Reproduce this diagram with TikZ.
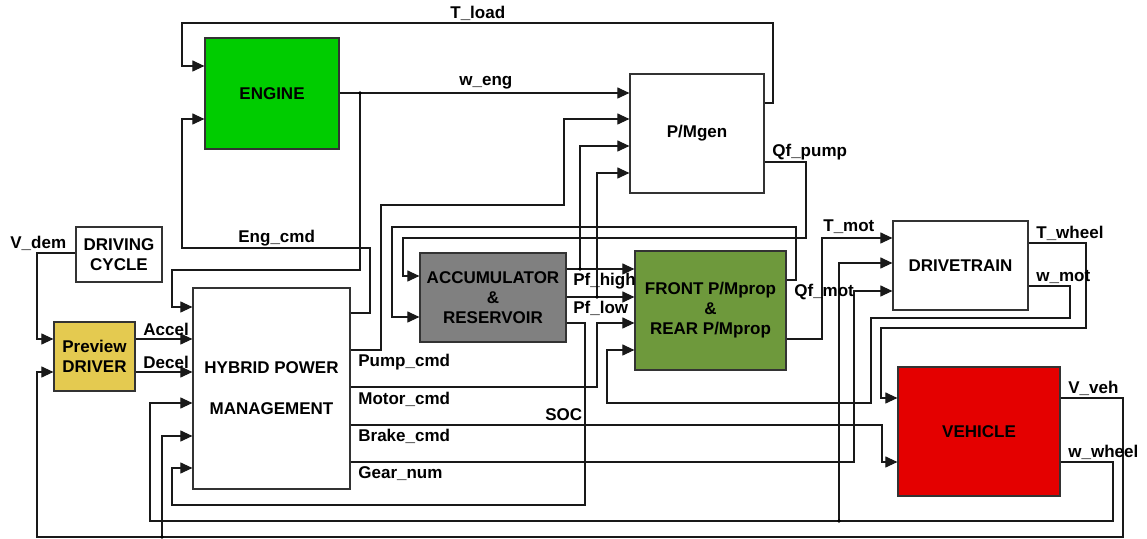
\documentclass[tikz,border=0pt]{standalone}
\usepackage{fontspec}
\setmainfont{Liberation Sans}
\usetikzlibrary{arrows.meta}

\definecolor{enggreen}{RGB}{0,204,0}
\definecolor{propgreen}{RGB}{110,153,60}
\definecolor{accgray}{RGB}{128,128,128}
\definecolor{drvyellow}{RGB}{228,202,80}
\definecolor{vehred}{RGB}{228,0,0}

\begin{document}
\begin{tikzpicture}[
  x=0.5pt, y=-0.5pt,
  blk/.style={draw=black!80, line width=0.6pt, align=center, inner sep=0pt,
              font=\fontsize{8.5}{10}\selectfont\bfseries},
  lbl/.style={anchor=west, inner sep=0pt, font=\fontsize{8.5}{10}\selectfont\bfseries},
  wire/.style={draw=black!90, line width=0.55pt},
  sig/.style={wire, -{Triangle[length=6pt, width=5.5pt]}}
]
\path[use as bounding box, fill=white] (0,0) rectangle (1147,539);

% blocks
\node[blk, minimum width=43pt, minimum height=27.5pt] (cycle) at (119,254.5) {DRIVING\\CYCLE};
\node[blk, fill=drvyellow, minimum width=40.5pt, minimum height=34.5pt] (driver) at (94.5,356.5) {Preview\\DRIVER};
\node[blk, minimum width=78.5pt, minimum height=100.5pt] (hpm) at (271.5,388.5) {HYBRID POWER\\[10.5pt]MANAGEMENT};
\node[blk, fill=enggreen, minimum width=67pt, minimum height=55.5pt] (engine) at (272,93.5) {ENGINE};
\node[blk, minimum width=67pt, minimum height=59.5pt] (pmgen) at (697,133.5) {P/Mgen};
\node[blk, fill=accgray, minimum width=73pt, minimum height=44.5pt] (acc) at (493,297.5) {ACCUMULATOR\\\&\\RESERVOIR};
\node[blk, fill=propgreen, minimum width=75.5pt, minimum height=59.5pt] (front) at (710.5,310.5) {FRONT P/Mprop\\\&\\REAR P/Mprop};
\node[blk, minimum width=67.5pt, minimum height=44.5pt] (drive) at (960.5,265.5) {DRIVETRAIN};
\node[blk, fill=vehred, minimum width=81pt, minimum height=64.5pt] (vehicle) at (979,431.5) {VEHICLE};

% branch points
\coordinate (wtap) at (360,93);
\coordinate (phtap) at (580,269);
\coordinate (pltap) at (597,297);
\coordinate (vtap) at (162,537);
\coordinate (wwtap) at (839,521);

% driver side
\draw[sig] (cycle.west |- 0,253) -- (37,253) -- (37,339) -- (driver.west |- 0,339);
\draw[sig] (driver.east |- 0,339) -- (hpm.west |- 0,339);
\draw[sig] (driver.east |- 0,372) -- (hpm.west |- 0,372);

% engine loop
\draw[sig] (hpm.east |- 0,313) -- (370,313) -- (370,248) -- (182,248) -- (182,119) -- (engine.west |- 0,119);
\draw[sig] (pmgen.east |- 0,103) -- (773,103) -- (773,23) -- (182,23) -- (182,66) -- (engine.west |- 0,66);
\draw[sig] (engine.east |- 0,93) -- (pmgen.west |- 0,93);
\draw[sig] (wtap) -- (360,270) -- (172,270) -- (172,307) -- (hpm.west |- 0,307);

% commands out of HPM
\draw[sig] (hpm.east |- 0,350) -- (381,350) -- (381,205) -- (564,205) -- (564,119) -- (pmgen.west |- 0,119);
\draw[sig] (hpm.east |- 0,387) -- (597,387) -- (597,323) -- (front.west |- 0,323);
\draw[sig] (hpm.east |- 0,425) -- (882,425) -- (882,462) -- (vehicle.west |- 0,462);
\draw[sig] (hpm.east |- 0,462) -- (854,462) -- (854,291) -- (drive.west |- 0,291);

% hydraulics
\draw[sig] (acc.east |- 0,269) -- (front.west |- 0,269);
\draw[sig] (phtap) -- (580,146) -- (pmgen.west |- 0,146);
\draw[sig] (acc.east |- 0,297) -- (front.west |- 0,297);
\draw[sig] (pltap) -- (597,173) -- (pmgen.west |- 0,173);
\draw[sig] (acc.east |- 0,323) -- (585,323) -- (585,505) -- (172,505) -- (172,468) -- (hpm.west |- 0,468);
\draw[sig] (pmgen.east |- 0,162) -- (806,162) -- (806,238) -- (403,238) -- (403,276) -- (acc.west |- 0,276);
\draw[sig] (front.east |- 0,280) -- (796,280) -- (796,227) -- (392,227) -- (392,317) -- (acc.west |- 0,317);

% driveline
\draw[sig] (front.east |- 0,339) -- (822,339) -- (822,238) -- (drive.west |- 0,238);
\draw[sig] (drive.east |- 0,243) -- (1086,243) -- (1086,328) -- (881,328) -- (881,398) -- (vehicle.west |- 0,398);
\draw[sig] (drive.east |- 0,286) -- (1070,286) -- (1070,318) -- (871,318) -- (871,403) -- (607,403) -- (607,350) -- (front.west |- 0,350);

% feedback from vehicle
\draw[sig] (vehicle.east |- 0,398) -- (1123,398) -- (1123,537) -- (37,537) -- (37,372) -- (driver.west |- 0,372);
\draw[sig] (vtap) -- (162,436) -- (hpm.west |- 0,436);
\draw[sig] (vehicle.east |- 0,462) -- (1113,462) -- (1113,521) -- (150,521) -- (150,403) -- (hpm.west |- 0,403);
\draw[sig] (wwtap) -- (839,263) -- (drive.west |- 0,263);

\foreach \t in {wtap, phtap, pltap, vtap, wwtap}
  \fill[black] (\t) circle (0.9pt);

% signal names
\node[lbl] (lVdem)   at (10,243)   {V\_dem};
\node[lbl] (lAccel)  at (143,329)  {Accel};
\node[lbl] (lDecel)  at (143,362)  {Decel};
\node[lbl] (lEngcmd) at (238,238)  {Eng\_cmd};
\node[lbl] (lTload)  at (450,13)   {T\_load};
\node[lbl] (lWeng)   at (459,83)   {w\_eng};
\node[lbl] (lQfpump) at (772,152)  {Qf\_pump};
\node[lbl] (lTmot)   at (823,227)  {T\_mot};
\node[lbl] (lTwheel) at (1036,233) {T\_wheel};
\node[lbl] (lWmot)   at (1036,277) {w\_mot};
\node[lbl] (lQfmot)  at (794,292)  {Qf\_mot};
\node[lbl] (lPfhigh) at (573,281)  {Pf\_high};
\node[lbl] (lPflow)  at (573,308)  {Pf\_low};
\node[lbl] (lPump)   at (358,362)  {Pump\_cmd};
\node[lbl] (lMotor)  at (358,399)  {Motor\_cmd};
\node[lbl] (lSOC)    at (545,415)  {SOC};
\node[lbl] (lBrake)  at (358,436)  {Brake\_cmd};
\node[lbl] (lGear)   at (358,474)  {Gear\_num};
\node[lbl] (lVveh)   at (1068,388) {V\_veh};
\node[lbl] (lWwheel) at (1068,452) {w\_wheel};

\end{tikzpicture}
\end{document}
